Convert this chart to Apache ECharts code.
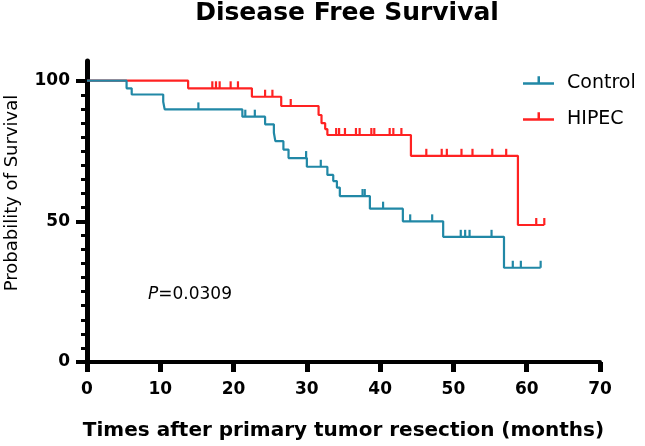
<!DOCTYPE html>
<html>
<head>
<meta charset="utf-8">
<script src="https://cdn.jsdelivr.net/npm/echarts@6/dist/echarts.min.js"></script>
<style>html,body{margin:0;padding:0;background:#fff;}#c{width:645px;height:446px;}</style>
</head>
<body>
<div id="c"></div>
<script>
// ---- data ----
const controlTimes = [0, 5.4, 6.1, 10.4, 10.6, 21.2, 24.3, 25.5, 25.7, 26.8, 27.5, 30.0, 32.8, 33.6, 34.1, 34.5, 38.6, 43.1, 48.6, 56.9, 61.9];
const controlSurv  = [100, 97.3, 95.1, 92.5, 89.8, 87.2, 84.5, 81.5, 78.5, 75.5, 72.5, 69.4, 66.5, 64.3, 62.0, 59.0, 54.5, 50.0, 44.5, 33.5, 33.5];
const controlCensor = [15.2, 21.6, 22.9, 29.9, 31.9, 37.6, 37.9, 40.4, 44.1, 47.1, 51.0, 51.6, 52.2, 55.2, 58.1, 59.2, 61.9];

const hipecTimes = [0, 13.8, 22.5, 26.5, 31.6, 32.0, 32.5, 32.8, 44.2, 58.8, 62.4];
const hipecSurv  = [100, 97.3, 94.3, 91.0, 87.8, 84.9, 82.8, 80.7, 73.3, 48.7, 48.7];
const hipecCensor = [17.1, 17.6, 18.1, 19.6, 20.6, 24.3, 25.3, 27.8, 34.0, 34.4, 35.2, 36.7, 37.2, 38.8, 39.2, 41.3, 41.8, 42.9, 46.3, 48.4, 49.1, 51.1, 52.6, 55.3, 57.2, 61.3, 62.4];

const xTicks = [0, 10, 20, 30, 40, 50, 60, 70];
const yMajor = [0, 50, 100];
const yMinor = [5, 10, 15, 20, 25, 30, 35, 40, 45, 55, 60, 65, 70, 75, 80, 85, 90, 95];

const titleText = 'Disease Free Survival';
const xName = 'Times after primary tumor resection (months)';
const yName = 'Probability of Survival';
const pText = '0.0309';

// ---- helpers ----
function pairs(t, s) { return t.map((v, i) => [v, s[i]]); }
function survAt(t, times, surv) {
  let v = surv[0];
  for (let i = 0; i < times.length; i++) { if (times[i] <= t) v = surv[i]; }
  return v;
}
function censorPts(c, times, surv) { return c.map(t => [t, survAt(t, times, surv)]); }

const TEAL = '#2188a6';
const RED = '#ff2222';
const FONT = 'DejaVu Sans';

const chart = echarts.init(document.getElementById('c'), null, {renderer: 'canvas'});
const legendIcon = 'path://M0,6L31,6L31,8.5L0,8.5Z M14.5,0L17,0L17,6L14.5,6Z M0,14.5L0.1,14.5L0,14.4Z';

chart.setOption({
  animation: false,
  backgroundColor: '#fff',
  title: {
    text: titleText, left: 347, top: 1, padding: 0, textAlign: 'center',
    textStyle: {fontFamily: FONT, fontWeight: 'bold', fontSize: 25, color: '#000'}
  },
  legend: {
    orient: 'vertical', left: 518, top: 69, itemGap: 17, itemWidth: 31, itemHeight: 14.5,
    data: [{name: 'Control', icon: legendIcon}, {name: 'HIPEC', icon: legendIcon}],
    itemStyle: {borderWidth: 0, opacity: 1},
    textStyle: {fontFamily: FONT, fontSize: 19, color: '#000', padding: [0, 0, 0, 8]},
    selectedMode: false
  },
  grid: {left: 87, right: 45, top: 61, bottom: 73, containLabel: false},
  xAxis: {
    type: 'value', min: 0, max: 70, interval: 10,
    axisLine: {show: true, onZero: false, lineStyle: {color: '#000', width: 4}},
    axisTick: {show: true, length: 10, lineStyle: {color: '#000', width: 5}},
    axisLabel: {margin: 19, fontFamily: FONT, fontWeight: 'bold', fontSize: 17, color: '#000', customValues: xTicks},
    splitLine: {show: false},
    name: xName, nameLocation: 'middle', nameGap: 59,
    nameTextStyle: {fontFamily: FONT, fontWeight: 'bold', fontSize: 20, color: '#000'}
  },
  yAxis: [{
    type: 'value', min: 0, max: 107,
    axisLine: {show: true, onZero: false, lineStyle: {color: '#000', width: 5}},
    axisTick: {show: true, length: 11, customValues: yMajor, lineStyle: {color: '#000', width: 4}},
    axisLabel: {margin: 17, customValues: yMajor, fontFamily: FONT, fontWeight: 'bold', fontSize: 17, color: '#000'},
    splitLine: {show: false}
  }, {
    type: 'value', min: 0, max: 107, position: 'left', offset: 0,
    axisLine: {show: false},
    axisTick: {show: true, length: 6, customValues: yMinor, lineStyle: {color: '#000', width: 3}},
    axisLabel: {show: false},
    splitLine: {show: false}
  }],
  graphic: [
    {type: 'text', x: 12, y: 193, rotation: Math.PI / 2,
     style: {text: yName, fontFamily: FONT, fontSize: 18, fill: '#000', align: 'center', verticalAlign: 'middle'}},
    {type: 'text', x: 148, y: 295,
     style: {text: '{i|P}=' + pText, fontFamily: FONT, fontSize: 17, fill: '#000', verticalAlign: 'middle',
             rich: {i: {fontStyle: 'italic', fontFamily: FONT, fontSize: 17, fill: '#000'}}}}
  ],
  series: [
    {name: 'HIPEC', type: 'line', step: 'end', symbol: 'none', data: pairs(hipecTimes, hipecSurv),
     lineStyle: {color: RED, width: 2.2}, itemStyle: {color: RED}, z: 2},
    {name: 'HIPEC', type: 'scatter', data: censorPts(hipecCensor, hipecTimes, hipecSurv),
     symbol: 'rect', symbolSize: [2.2, 7], symbolOffset: [0, -3.5], itemStyle: {color: RED, opacity: 1}, z: 2},
    {name: 'Control', type: 'line', step: 'end', symbol: 'none', data: pairs(controlTimes, controlSurv),
     lineStyle: {color: TEAL, width: 2.2}, itemStyle: {color: TEAL}, z: 3},
    {name: 'Control', type: 'scatter', data: censorPts(controlCensor, controlTimes, controlSurv),
     symbol: 'rect', symbolSize: [2.2, 7], symbolOffset: [0, -3.5], itemStyle: {color: TEAL, opacity: 1}, z: 3}
  ]
});
</script>
</body>
</html>
